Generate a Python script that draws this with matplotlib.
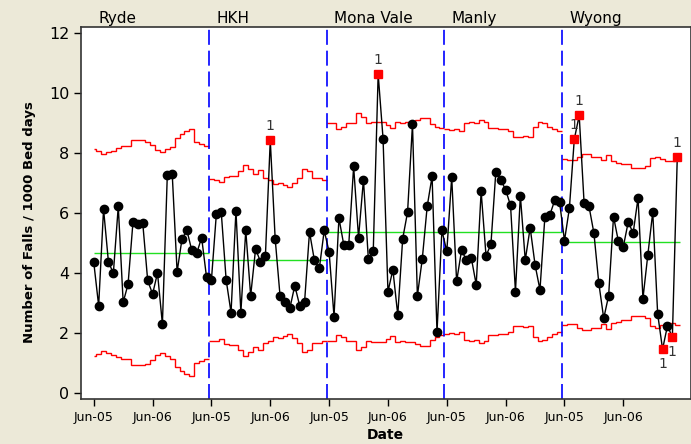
import matplotlib
matplotlib.use("Agg")
import matplotlib.pyplot as plt
import numpy as np

# stages (24 monthly points each, Jun-05 .. May-07)
stages = ["Ryde", "HKH", "Mona Vale", "Manly", "Wyong"]

ryde = [4.36, 2.91, 6.13, 4.36, 4.00, 6.22, 3.02, 3.63, 5.70, 5.64, 5.65, 3.75,
        3.30, 4.00, 2.30, 7.26, 7.31, 4.04, 5.14, 5.42, 4.75, 4.66, 5.18, 3.86]
hkh = [3.77, 5.96, 6.03, 3.77, 2.68, 6.08, 2.68, 5.42, 3.24, 4.80, 4.38, 4.55,
       8.42, 5.14, 3.22, 3.05, 2.83, 3.58, 2.91, 3.05, 5.37, 4.42, 4.15, 5.42]
mona_vale = [4.70, 2.55, 5.83, 4.93, 4.93, 7.55, 5.18, 7.11, 4.47, 4.72, 10.63, 8.48,
             3.38, 4.11, 2.60, 5.14, 6.03, 8.96, 3.24, 4.47, 6.22, 7.22, 2.03, 5.42]
manly = [4.72, 7.20, 3.72, 4.75, 4.44, 4.50, 3.61, 6.72, 4.57, 4.96, 7.38, 7.11,
         6.77, 6.25, 3.38, 6.58, 4.43, 5.51, 4.27, 3.44, 5.87, 5.93, 6.42, 6.36]
wyong = [5.08, 6.16, 8.46, 9.25, 6.33, 6.22, 5.33, 3.66, 2.49, 3.24, 5.88, 5.05,
         4.88, 5.70, 5.33, 6.50, 3.15, 4.61, 6.03, 2.64, 1.46, 2.24, 1.86, 7.85]

center = [4.68, 4.42, 5.37, 5.38, 5.03]

# upper control limits per point (lower limit mirrors it around the centre line)
ucl_ryde = [8.12, 8.07, 7.96, 8.02, 8.08, 8.16, 8.23, 8.23, 8.43, 8.43, 8.43, 8.38,
            8.27, 8.10, 8.04, 8.12, 8.21, 8.49, 8.62, 8.73, 8.79, 8.36, 8.30, 8.22]
ucl_hkh = [7.12, 7.10, 7.04, 7.20, 7.24, 7.24, 7.40, 7.60, 7.46, 7.29, 7.42, 7.18,
           7.09, 6.96, 6.99, 6.93, 6.88, 6.99, 7.18, 7.47, 7.40, 7.18, 7.18, 7.10]
ucl_mona = [8.99, 8.99, 8.80, 8.88, 8.99, 8.99, 9.32, 9.21, 8.99, 9.04, 9.03, 9.03,
            8.93, 8.84, 9.03, 8.99, 9.04, 9.04, 9.10, 9.18, 9.18, 8.97, 8.88, 8.82]
ucl_manly = [8.80, 8.77, 8.80, 8.73, 8.99, 9.03, 8.99, 9.10, 9.03, 8.82, 8.82, 8.79,
             8.79, 8.73, 8.54, 8.54, 8.57, 8.52, 8.88, 9.03, 8.99, 8.88, 8.80, 8.73]
ucl_wyong = [7.79, 7.77, 7.77, 7.88, 7.97, 7.97, 7.88, 7.88, 7.77, 7.93, 7.74, 7.68,
             7.63, 7.63, 7.49, 7.49, 7.49, 7.57, 7.82, 7.88, 7.79, 7.74, 7.74, 7.79]

# out-of-control points (index in the whole series) and where the "1" goes
flag_high = [36, 58, 98, 99, 119]
flag_low = [116, 118]

tick_labels = ["Jun-05", "Jun-06"] * 5

series = [ryde, hkh, mona_vale, manly, wyong]
ucls = [ucl_ryde, ucl_hkh, ucl_mona, ucl_manly, ucl_wyong]
values = np.concatenate(series)
x = np.arange(len(values))

fig = plt.figure(figsize=(6.91, 4.44), dpi=100, facecolor="#ECE9D8")
ax = fig.add_axes([81 / 691, 45 / 444, 610 / 691, 372 / 444])
ax.set_facecolor("white")

start = 0
for name, vals, ucl, cl in zip(stages, series, ucls, center):
    n = len(vals)
    edges = np.arange(n + 1) + start - 0.5
    edges[0] = max(edges[0], 0)
    ucl = np.array(ucl)
    ax.stairs(ucl, edges, baseline=None, color="red", lw=1.0)
    ax.stairs(2 * cl - ucl, edges, baseline=None, color="red", lw=1.0)
    ax.hlines(cl, edges[0], edges[-1], color="#22E022", lw=1.0)
    ax.text(start - 0.5 + 1.5, 12.22, name, fontsize=11, ha="left", va="bottom")
    if start > 0:
        ax.axvline(start - 0.5, color="#0000FF", lw=1.2, ls=(0, (9, 3.5)))
    start += n

flags = flag_high + flag_low
ok = np.setdiff1d(x, flags)
ax.plot(x, values, color="black", lw=1.0, zorder=3)
ax.plot(x[ok], values[ok], ls="none", marker="o", ms=6, color="black", zorder=4)
ax.plot(x[flags], values[flags], ls="none", marker="s", ms=5.5, color="red", zorder=4)
for i in flag_high:
    ax.text(x[i], values[i] + 0.25, "1", ha="center", va="bottom", fontsize=10, color="#333333")
for i in flag_low:
    ax.text(x[i], values[i] - 0.25, "1", ha="center", va="top", fontsize=10, color="#333333")

ax.set_xlim(-2.6, 121.8)
ax.set_ylim(-0.2, 12.2)
ax.set_yticks(range(0, 13, 2))
ax.set_xticks(np.arange(0, 120, 12))
ax.set_xticklabels(tick_labels, fontsize=9)
ax.tick_params(axis="y", labelsize=11.5, length=5, width=1)
ax.tick_params(axis="x", length=5, width=1)
for s in ax.spines.values():
    s.set_linewidth(1.2)
    s.set_color("#333333")

fig.text(30 / 691, 0.5, "Number of Falls / 1000 Bed days", rotation=90,
         ha="center", va="center", fontsize=9.5, fontweight="bold")
fig.text(385 / 691, 1 - 435 / 444, "Date", ha="center", va="center",
         fontsize=10, fontweight="bold")

fig.savefig("out.png", dpi=100, facecolor=fig.get_facecolor())
